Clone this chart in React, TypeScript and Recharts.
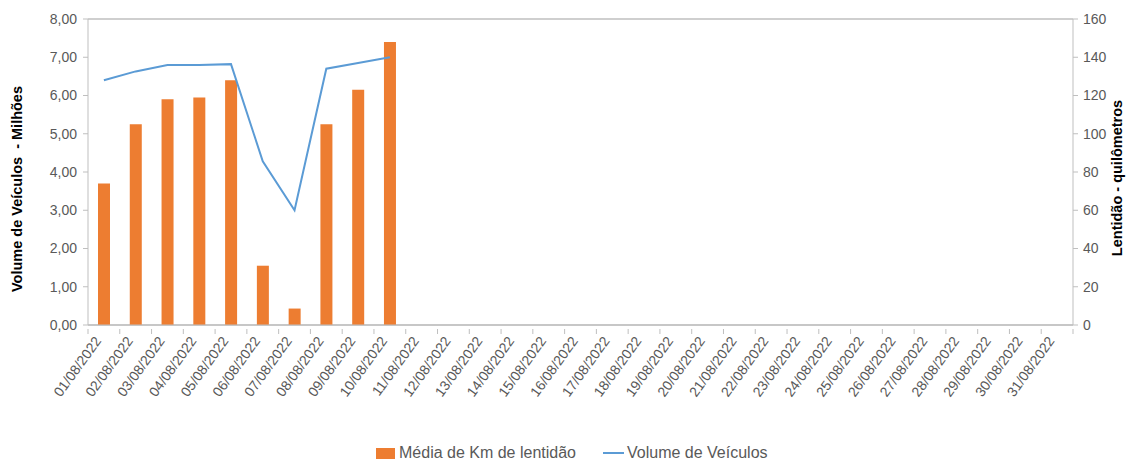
import React from 'react';
import { ComposedChart, Bar, Line, XAxis, YAxis, CartesianGrid, Legend } from 'recharts';

const days: string[] = [
  '01/08/2022','02/08/2022','03/08/2022','04/08/2022','05/08/2022','06/08/2022','07/08/2022','08/08/2022',
  '09/08/2022','10/08/2022','11/08/2022','12/08/2022','13/08/2022','14/08/2022','15/08/2022','16/08/2022',
  '17/08/2022','18/08/2022','19/08/2022','20/08/2022','21/08/2022','22/08/2022','23/08/2022','24/08/2022',
  '25/08/2022','26/08/2022','27/08/2022','28/08/2022','29/08/2022','30/08/2022','31/08/2022',
];
// Média de Km de lentidão (km, right axis)
const lentidaoKm: number[] = [74, 105, 118, 119, 128, 31, 8.6, 105, 123, 148];
// Volume de Veículos (milhões, left axis)
const volumeMilhoes: number[] = [6.40, 6.63, 6.80, 6.80, 6.82, 4.28, 3.00, 6.70, 6.85, 7.00];
const leftTicks: number[] = [0, 1, 2, 3, 4, 5, 6, 7, 8];
const rightTicks: number[] = [0, 20, 40, 60, 80, 100, 120, 140, 160];

const data = days.map((d, i) => ({
  day: d,
  lentidao: lentidaoKm[i],
  volume: volumeMilhoes[i],
}));

const W = 1131;
const H = 462;
const LEFT_W = 88;
const RIGHT_W = 58;
const BAND = (W - LEFT_W - RIGHT_W) / days.length;
const FONT = 'Liberation Sans, Arial, sans-serif';
const TXT = '#595959';
const AXIS = '#bfbfbf';

const XTick = (props: any) => {
  const { x, y, payload } = props;
  const tx = x - 2;
  const ty = y + 8;
  return (
    <g>
      <line x1={x + BAND / 2} x2={x + BAND / 2} y1={y - 4} y2={y + 1} stroke={AXIS} />
      {payload.index === 0 ? <line x1={x - BAND / 2} x2={x - BAND / 2} y1={y - 4} y2={y + 1} stroke={AXIS} /> : null}
      <text
        x={tx}
        y={ty}
        transform={`rotate(-54, ${tx}, ${ty})`}
        textAnchor="end"
        fontSize={14}
        fill={TXT}
        fontFamily={FONT}
      >
        {payload.value}
      </text>
    </g>
  );
};

const LegendContent = () => (
  <div style={{ display: 'flex', justifyContent: 'flex-start', alignItems: 'center', fontFamily: FONT, fontSize: 16, color: TXT, paddingLeft: 376, paddingTop: 3 }}>
    <span style={{ display: 'inline-block', width: 19, height: 11, background: '#ED7D31', marginRight: 4 }} />
    <span style={{ marginRight: 27 }}>Média de Km de lentidão</span>
    <span style={{ display: 'inline-block', width: 21, height: 2, background: '#5B9BD5', marginRight: 3 }} />
    <span>Volume de Veículos</span>
  </div>
);

export default function App() {
  return (
    <div style={{ position: 'absolute', left: 0, top: 0, width: W, height: H, background: '#fff' }}>
      <ComposedChart width={W} height={H} data={data} margin={{ top: 19, right: 0, left: 0, bottom: 0 }} barCategoryGap={0}>
        <CartesianGrid vertical={false} stroke={AXIS} strokeWidth={1.5} />
        <XAxis
          dataKey="day"
          interval={0}
          tickLine={false}
          axisLine={{ stroke: AXIS }}
          height={116}
          tick={<XTick />}
        />
        <YAxis
          yAxisId="left"
          orientation="left"
          width={LEFT_W}
          domain={[0, 8]}
          ticks={leftTicks}
          tickFormatter={(v: number) => v.toFixed(2).replace('.', ',')}
          tick={{ fontSize: 14, fill: TXT, fontFamily: FONT, dx: -4 }}
          tickLine={{ stroke: AXIS }}
          tickSize={5}
          axisLine={{ stroke: AXIS }}
          label={({ viewBox }: any) => (
            <text
              x={22}
              y={viewBox.y + viewBox.height / 2 + 17}
              transform={`rotate(-90, 22, ${viewBox.y + viewBox.height / 2 + 17})`}
              textAnchor="middle"
              fontSize={14.5}
              fontWeight="bold"
              fill="#000"
              fontFamily={FONT}
              style={{ whiteSpace: 'pre' }}
            >
              {'Volume de Veículos  - Milhões'}
            </text>
          )}
        />
        <YAxis
          yAxisId="right"
          orientation="right"
          width={RIGHT_W}
          domain={[0, 160]}
          ticks={rightTicks}
          tick={{ fontSize: 14, fill: TXT, fontFamily: FONT, textAnchor: 'start', dx: 3 }}
          tickLine={{ stroke: AXIS }}
          tickSize={5}
          axisLine={{ stroke: AXIS }}
          label={({ viewBox }: any) => (
            <text
              x={1122}
              y={viewBox.y + viewBox.height / 2 + 6}
              transform={`rotate(-90, 1122, ${viewBox.y + viewBox.height / 2 + 6})`}
              textAnchor="middle"
              fontSize={14.5}
              fontWeight="bold"
              fill="#000"
              fontFamily={FONT}
            >
              Lentidão - quilômetros
            </text>
          )}
        />
        <Bar yAxisId="right" dataKey="lentidao" name="Média de Km de lentidão" fill="#ED7D31" barSize={12} isAnimationActive={false} />
        <Line yAxisId="left" dataKey="volume" name="Volume de Veículos" stroke="#5B9BD5" strokeWidth={2} dot={false} type="linear" isAnimationActive={false} />
        <Legend verticalAlign="bottom" height={21} wrapperStyle={{ left: 0, width: W }} content={<LegendContent />} />
      </ComposedChart>
    </div>
  );
}
